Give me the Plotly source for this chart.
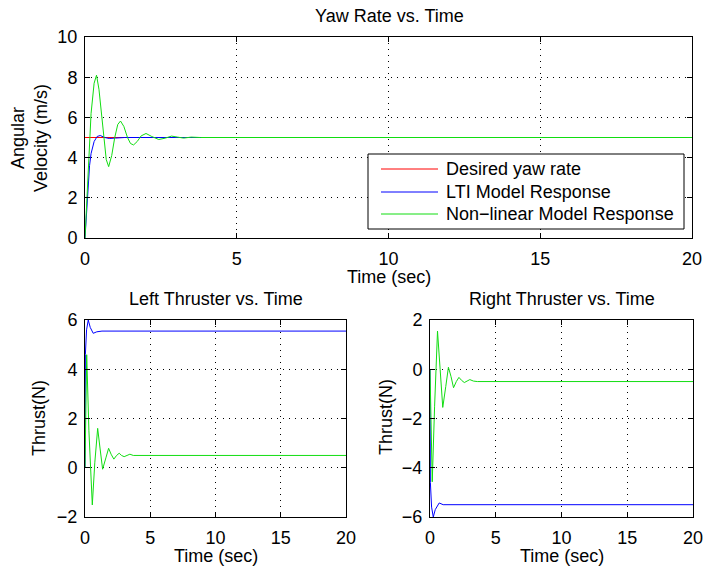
import plotly.graph_objects as go

# ---------------- data ----------------
# Top panel: yaw rate
t_des = [0, 20]
yaw_des = [5, 5]

t_lti = [0, 0.05, 0.1, 0.15, 0.2, 0.3, 0.4, 0.5, 0.65, 0.8, 1.0, 1.3, 20]
yaw_lti = [0, 1.2, 2.6, 3.6, 4.2, 4.8, 5.05, 5.1, 5.0, 4.95, 4.97, 5.0, 5.0]

t_nl = [0, 0.1, 0.2, 0.3, 0.38, 0.46, 0.58, 0.7, 0.78, 0.88, 0.98, 1.08, 1.17,
        1.28, 1.4, 1.5, 1.6, 1.72, 1.85, 2.01, 2.2, 2.43, 2.65, 2.85, 3.05,
        3.25, 3.5, 3.8, 20]
yaw_nl = [0, 3.0, 6.2, 7.7, 8.1, 7.4, 5.5, 3.9, 3.55, 4.1, 5.0, 5.65, 5.82,
          5.55, 5.0, 4.7, 4.63, 4.8, 5.08, 5.2, 5.05, 4.9, 4.97, 5.07, 5.02,
          4.97, 5.02, 5.0, 5.0]

# Bottom left: left thruster
t_l_lti = [0, 0.03, 0.12, 0.25, 0.4, 0.63, 0.9, 1.3, 20]
left_lti = [0, 4.6, 5.6, 6.0, 5.7, 5.46, 5.52, 5.55, 5.55]

t_l_nl = [0, 0.13, 0.3, 0.56, 0.75, 0.97, 1.15, 1.35, 1.6, 1.81, 2.0, 2.21,
          2.42, 2.62, 2.8, 3.0, 3.22, 3.44, 3.7, 4.0, 20]
left_nl = [0, 4.59, 1.5, -1.51, 0.2, 1.6, 0.8, -0.06, 0.4, 0.79, 0.55, 0.35,
           0.5, 0.59, 0.5, 0.45, 0.5, 0.55, 0.5, 0.5, 0.5]

# Bottom right: right thruster
t_r_lti = [0, 0.03, 0.12, 0.25, 0.4, 0.7, 1.0, 20]
right_lti = [0, -4.6, -5.6, -6.0, -5.7, -5.43, -5.5, -5.5]

t_r_nl = [0, 0.17, 0.35, 0.57, 0.77, 0.97, 1.2, 1.4, 1.6, 1.79, 2.0, 2.2,
          2.4, 2.61, 2.82, 3.03, 3.3, 3.6, 20]
right_nl = [0, -4.57, -1.5, 1.55, 0.0, -1.55, -0.7, 0.08, -0.3, -0.75, -0.5,
            -0.33, -0.45, -0.54, -0.48, -0.42, -0.48, -0.5, -0.5]

x_ticks = [0, 5, 10, 15, 20]
top_y_ticks = [0, 2, 4, 6, 8, 10]
left_y_ticks = [-2, 0, 2, 4, 6]
right_y_ticks = [-6, -4, -2, 0, 2]

legend_names = ["Desired yaw rate", "LTI Model Response", "Non\u2212linear Model Response"]

# ---------------- figure ----------------
W, H = 704, 570
RED, BLUE, GREEN = "#FF0000", "#0000FF", "#11DD11"
FONT = "Liberation Sans, Arial, Helvetica, sans-serif"
FS = 18

fig = go.Figure()
fig.add_trace(go.Scatter(x=t_des, y=yaw_des, mode="lines", name=legend_names[0],
                         line=dict(color=RED, width=1), xaxis="x", yaxis="y"))
fig.add_trace(go.Scatter(x=t_lti, y=yaw_lti, mode="lines", name=legend_names[1],
                         line=dict(color=BLUE, width=1), xaxis="x", yaxis="y"))
fig.add_trace(go.Scatter(x=t_nl, y=yaw_nl, mode="lines", name=legend_names[2],
                         line=dict(color=GREEN, width=1), xaxis="x", yaxis="y"))

fig.add_trace(go.Scatter(x=t_l_lti, y=left_lti, mode="lines", name="LTI (left)",
                         line=dict(color=BLUE, width=1), xaxis="x2", yaxis="y2"))
fig.add_trace(go.Scatter(x=t_l_nl, y=left_nl, mode="lines", name="Non-linear (left)",
                         line=dict(color=GREEN, width=1), xaxis="x2", yaxis="y2"))

fig.add_trace(go.Scatter(x=t_r_lti, y=right_lti, mode="lines", name="LTI (right)",
                         line=dict(color=BLUE, width=1), xaxis="x3", yaxis="y3"))
fig.add_trace(go.Scatter(x=t_r_nl, y=right_nl, mode="lines", name="Non-linear (right)",
                         line=dict(color=GREEN, width=1), xaxis="x3", yaxis="y3"))


def ax(domain, rng, ticks, anchor, standoff):
    return dict(domain=domain, range=rng, tickvals=ticks,
                ticktext=[str(v).replace("-", "\u2212") for v in ticks],
                showline=True, linecolor="black", linewidth=1, mirror="allticks",
                ticks="inside", ticklen=5, tickcolor="black", tickwidth=1,
                showgrid=True, gridcolor="black", gridwidth=1, griddash="1px,5px",
                zeroline=False, anchor=anchor, fixedrange=True, automargin=False,
                ticklabelstandoff=standoff, ticklabeloverflow="allow",
                tickfont=dict(family=FONT, size=FS, color="black"))


def px_x(p):
    return p / W


def px_y(p):
    return 1 - p / H


fig.update_layout(
    width=W, height=H,
    margin=dict(l=0, r=0, t=0, b=0),
    paper_bgcolor="white", plot_bgcolor="white",
    font=dict(family=FONT, size=FS, color="black"),
    xaxis=ax([px_x(85), px_x(692)], [0, 20], x_ticks, "y", 4),
    yaxis=ax([px_y(238), px_y(37)], [0, 10], top_y_ticks, "x", 3),
    xaxis2=ax([px_x(85), px_x(346)], [0, 20], x_ticks, "y2", 4),
    yaxis2=ax([px_y(517), px_y(320)], [-2, 6], left_y_ticks, "x2", 3),
    xaxis3=ax([px_x(430), px_x(693)], [0, 20], x_ticks, "y3", 4),
    yaxis3=ax([px_y(517), px_y(320)], [-6, 2], right_y_ticks, "x3", 3),
    showlegend=False,
)

# ---- legend box (MATLAB style) drawn in paper coordinates ----
leg_colors = [RED, BLUE, GREEN]
leg_rows = [169, 192, 214]
fig.add_shape(type="rect", xref="paper", yref="paper",
              x0=px_x(368), x1=px_x(684), y0=px_y(229), y1=px_y(154),
              fillcolor="white", line=dict(color="black", width=1), layer="above")
for name, col, ry in zip(legend_names, leg_colors, leg_rows):
    fig.add_shape(type="line", xref="paper", yref="paper",
                  x0=px_x(381), x1=px_x(438), y0=px_y(ry), y1=px_y(ry),
                  line=dict(color=col, width=1), layer="above")
    fig.add_annotation(xref="paper", yref="paper", showarrow=False,
                       x=px_x(444), y=px_y(ry), xanchor="left", yanchor="middle",
                       text=name, font=dict(family=FONT, size=FS, color="black"))

annots = [
    dict(text="Yaw Rate vs. Time", x=px_x(389), y=px_y(16)),
    dict(text="Left Thruster vs. Time", x=px_x(216), y=px_y(299)),
    dict(text="Right Thruster vs. Time", x=px_x(562), y=px_y(299)),
    dict(text="Time (sec)", x=px_x(389), y=px_y(277)),
    dict(text="Time (sec)", x=px_x(216), y=px_y(556)),
    dict(text="Time (sec)", x=px_x(562), y=px_y(556)),
    dict(text="Angular<br>Velocity (m/s)", x=px_x(29), y=px_y(138), textangle=-90),
    dict(text="Thrust(N)", x=px_x(39), y=px_y(418), textangle=-90),
    dict(text="Thrust(N)", x=px_x(386), y=px_y(417), textangle=-90),
]
for a in annots:
    fig.add_annotation(xref="paper", yref="paper", showarrow=False,
                       xanchor="center", yanchor="middle",
                       font=dict(family=FONT, size=FS, color="black"), **a)

fig.write_html("out.html")
